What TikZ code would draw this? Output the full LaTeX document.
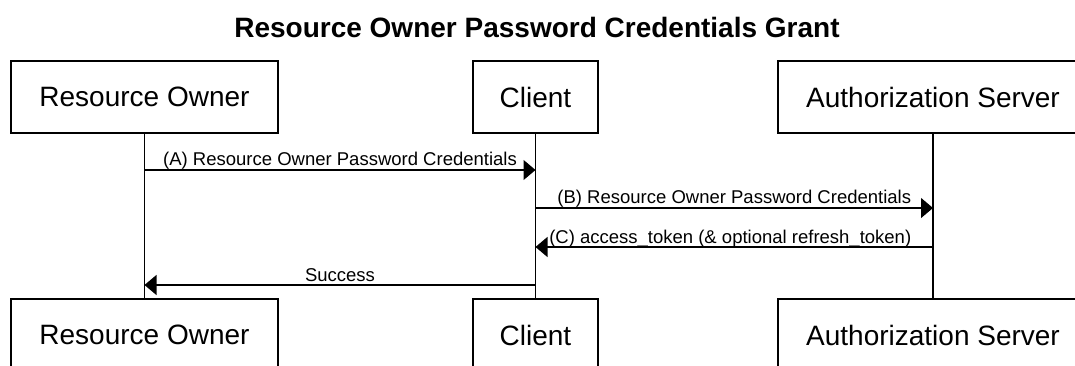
\documentclass[tikz,border=0pt]{standalone}
\usepackage{fontspec}
\setmainfont{Liberation Sans}
\usetikzlibrary{arrows.meta}

\begin{document}
\begin{tikzpicture}[x=1pt,y=-1pt,
		actor/.style={draw,line width=1.1pt,inner sep=0pt,minimum height=72pt,font=\fontsize{28}{30}\selectfont},
		msg/.style={line width=1.1pt,-{Triangle[length=12pt,width=20pt]}},
		lbl/.style={font=\fontsize{18.5}{20}\selectfont,anchor=base,inner sep=0pt,yshift=4pt}]
			\useasboundingbox (0,0) rectangle (1075,366); % same window as the reference
			\node[font=\bfseries\fontsize{28}{30}\selectfont,anchor=base] (title) at (537,38) {Resource Owner Password Credentials Grant};
			% participants, top row
			\node[actor,minimum width=267pt] (ro) at (144.5,97) {Resource Owner};
			\node[actor,minimum width=125pt] (cl) at (535.5,97) {Client};
			\node[actor,minimum width=310pt] (as) at (933,97) {Authorization Server};
			% participants, bottom row (cut by the window)
			\node[actor,minimum width=267pt] (ro2) at (144.5,335) {Resource Owner};
			\node[actor,minimum width=125pt] (cl2) at (535.5,335) {Client};
			\node[actor,minimum width=310pt] (as2) at (933,335) {Authorization Server};
			% lifelines
			\draw[line width=1.1pt] (ro) -- (ro2);
			\draw[line width=1.1pt] (cl) -- (cl2);
			\draw[line width=1.1pt] (as) -- (as2);
			% messages
			\draw[msg] (ro.south |- 0,170) -- node[lbl] {(A) Resource Owner Password Credentials} (cl.south |- 0,170);
			\draw[msg] (cl.south |- 0,208) -- node[lbl] {(B) Resource Owner Password Credentials} (as.south |- 0,208);
			\draw[msg] (as.south |- 0,247) -- node[lbl,xshift=-4pt] {(C) access\_token (\& optional refresh\_token)} (cl.south |- 0,247);
			\draw[msg] (cl.south |- 0,285) -- node[lbl] {Success} (ro.south |- 0,285);
		\end{tikzpicture}
\end{document}
